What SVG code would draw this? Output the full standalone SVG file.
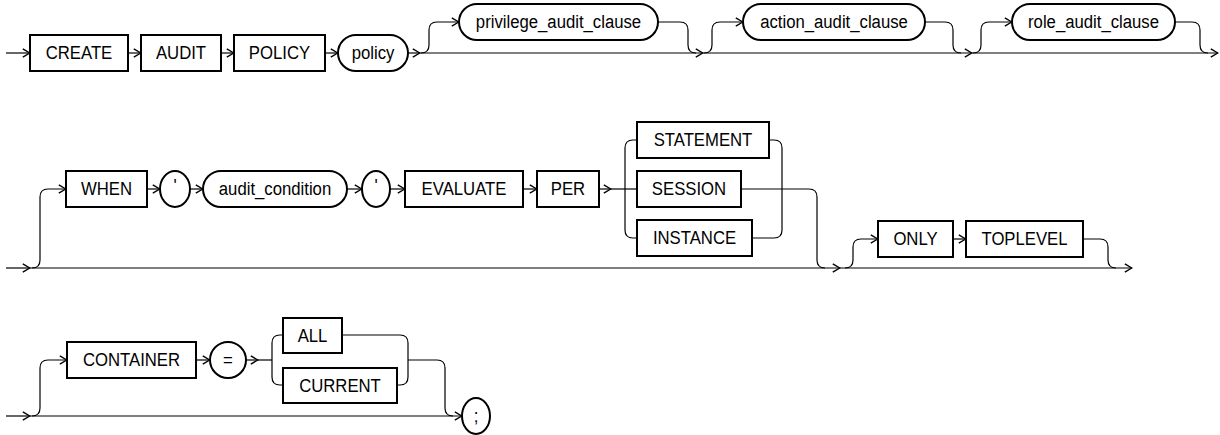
<svg xmlns="http://www.w3.org/2000/svg" width="1220" height="435" viewBox="0 0 1220 435">
<style>
.bx{fill:#fff;stroke:#000;stroke-width:2}
.t{font-family:"Liberation Sans",Arial,sans-serif;font-size:19px;fill:#000;text-anchor:middle;dominant-baseline:central;transform:scaleX(0.88);transform-box:fill-box;transform-origin:center}
.c{fill:none;stroke:#000;stroke-width:1.2}
</style>
<defs>
<marker id="arr" viewBox="0 0 9 10" refX="8.2" refY="5" markerWidth="9" markerHeight="10" markerUnits="userSpaceOnUse" orient="auto">
<path d="M1,0.8 L8,5 L1,9.2" fill="none" stroke="#000" stroke-width="1.4"/>
</marker>
</defs>
<g id="n-create"><rect class="bx" x="30" y="35" width="98" height="36"/><text class="t" x="79" y="53">CREATE</text></g>
<g id="n-audit"><rect class="bx" x="141" y="35" width="80" height="36"/><text class="t" x="181" y="53">AUDIT</text></g>
<g id="n-policykw"><rect class="bx" x="234" y="35" width="91" height="36"/><text class="t" x="279.5" y="53">POLICY</text></g>
<g id="n-policy"><rect class="bx" x="338" y="35" width="70" height="36" rx="18"/><text class="t" x="373" y="53">policy</text></g>
<g id="n-privilege"><rect class="bx" x="459" y="4" width="199" height="36" rx="18"/><text class="t" x="558.5" y="22">privilege_audit_clause</text></g>
<g id="n-action"><rect class="bx" x="743" y="4" width="182" height="36" rx="18"/><text class="t" x="834" y="22">action_audit_clause</text></g>
<g id="n-role"><rect class="bx" x="1012" y="4" width="163" height="36" rx="18"/><text class="t" x="1093.5" y="22">role_audit_clause</text></g>
<g id="n-when"><rect class="bx" x="66" y="171" width="81" height="36"/><text class="t" x="106.5" y="189">WHEN</text></g>
<g id="n-quote1"><rect class="bx" x="160" y="171" width="30" height="36" rx="15" ry="18"/><text class="t" x="175" y="186">'</text></g>
<g id="n-cond"><rect class="bx" x="203" y="171" width="144" height="36" rx="18"/><text class="t" x="275" y="189">audit_condition</text></g>
<g id="n-quote2"><rect class="bx" x="362" y="171" width="28" height="36" rx="14" ry="18"/><text class="t" x="376" y="186">'</text></g>
<g id="n-evaluate"><rect class="bx" x="405" y="171" width="118" height="36"/><text class="t" x="464" y="189">EVALUATE</text></g>
<g id="n-per"><rect class="bx" x="537" y="171" width="62" height="36"/><text class="t" x="568" y="189">PER</text></g>
<g id="n-statement"><rect class="bx" x="637" y="122" width="132" height="36"/><text class="t" x="703" y="140">STATEMENT</text></g>
<g id="n-session"><rect class="bx" x="637" y="171" width="104" height="36"/><text class="t" x="689" y="189">SESSION</text></g>
<g id="n-instance"><rect class="bx" x="637" y="220" width="115" height="36"/><text class="t" x="694.5" y="238">INSTANCE</text></g>
<g id="n-only"><rect class="bx" x="878" y="221" width="75" height="36"/><text class="t" x="915.5" y="239">ONLY</text></g>
<g id="n-toplevel"><rect class="bx" x="966" y="221" width="117" height="36"/><text class="t" x="1024.5" y="239">TOPLEVEL</text></g>
<g id="n-container"><rect class="bx" x="67" y="342" width="129" height="36"/><text class="t" x="131.5" y="360">CONTAINER</text></g>
<g id="n-eq"><rect class="bx" x="210" y="342" width="36" height="36" rx="18"/><text class="t" x="228" y="360">=</text></g>
<g id="n-all"><rect class="bx" x="283" y="318" width="59" height="35"/><text class="t" x="312.5" y="335.5">ALL</text></g>
<g id="n-current"><rect class="bx" x="283" y="368" width="114" height="35"/><text class="t" x="340" y="385.5">CURRENT</text></g>
<g id="n-semi"><rect class="bx" x="462" y="398" width="28" height="36" rx="14" ry="18"/><text class="t" x="476" y="416">;</text></g>
<g id="connectors">
<path class="c" d="M6,53 L30,53" marker-end="url(#arr)"/>
<path class="c" d="M128,53 L141,53" marker-end="url(#arr)"/>
<path class="c" d="M221,53 L234,53" marker-end="url(#arr)"/>
<path class="c" d="M325,53 L338,53" marker-end="url(#arr)"/>
<path class="c" d="M408,53 L420,53" marker-end="url(#arr)"/>
<path class="c" d="M420,53 L703,53" marker-end="url(#arr)"/>
<path class="c" d="M703,53 L972,53" marker-end="url(#arr)"/>
<path class="c" d="M972,53 L1218,53" marker-end="url(#arr)"/>
<path class="c" d="M421,53 q8,0 8,-8 L429,30 q0,-8 8,-8 L459,22" marker-end="url(#arr)"/>
<path class="c" d="M658,22 L680,22 q8,0 8,8 L688,45 q0,8 8,8"/>
<path class="c" d="M704,53 q8,0 8,-8 L712,30 q0,-8 8,-8 L743,22" marker-end="url(#arr)"/>
<path class="c" d="M925,22 L945,22 q8,0 8,8 L953,45 q0,8 8,8"/>
<path class="c" d="M973,53 q8,0 8,-8 L981,30 q0,-8 8,-8 L1012,22" marker-end="url(#arr)"/>
<path class="c" d="M1175,22 L1192,22 q8,0 8,8 L1200,45 q0,8 8,8"/>
<path class="c" d="M6,268 L30,268" marker-end="url(#arr)"/>
<path class="c" d="M30,268 L840,268" marker-end="url(#arr)"/>
<path class="c" d="M840,268 L1132,268" marker-end="url(#arr)"/>
<path class="c" d="M32,268 q8,0 8,-8 L40,197 q0,-8 8,-8 L66,189" marker-end="url(#arr)"/>
<path class="c" d="M147,189 L160,189" marker-end="url(#arr)"/>
<path class="c" d="M190,189 L203,189" marker-end="url(#arr)"/>
<path class="c" d="M347,189 L362,189" marker-end="url(#arr)"/>
<path class="c" d="M390,189 L405,189" marker-end="url(#arr)"/>
<path class="c" d="M523,189 L537,189" marker-end="url(#arr)"/>
<path class="c" d="M599,189 L611,189" marker-end="url(#arr)"/>
<path class="c" d="M611,189 L637,189"/>
<path class="c" d="M637,140 L633,140 q-8,0 -8,8 L625,230 q0,8 8,8 L637,238"/>
<path class="c" d="M769,140 L774,140 q8,0 8,8 L782,230 q0,8 -8,8 L752,238"/>
<path class="c" d="M741,189 L809,189 q8,0 8,8 L817,260 q0,8 8,8"/>
<path class="c" d="M845,268 q8,0 8,-8 L853,247 q0,-8 8,-8 L878,239" marker-end="url(#arr)"/>
<path class="c" d="M953,239 L966,239" marker-end="url(#arr)"/>
<path class="c" d="M1083,239 L1100,239 q8,0 8,8 L1108,260 q0,8 8,8"/>
<path class="c" d="M6,416 L30,416" marker-end="url(#arr)"/>
<path class="c" d="M30,416 L462,416" marker-end="url(#arr)"/>
<path class="c" d="M32,416 q8,0 8,-8 L40,368 q0,-8 8,-8 L67,360" marker-end="url(#arr)"/>
<path class="c" d="M196,360 L210,360" marker-end="url(#arr)"/>
<path class="c" d="M246,360 L258,360" marker-end="url(#arr)"/>
<path class="c" d="M258,360 L272,360"/>
<path class="c" d="M283,335 L280,335 q-8,0 -8,8 L272,377 q0,8 8,8 L283,385"/>
<path class="c" d="M342,335 L400,335 q8,0 8,8 L408,377 q0,8 -8,8 L397,385"/>
<path class="c" d="M408,360 L437,360 q8,0 8,8 L445,408 q0,8 8,8"/>
</g>
</svg>
